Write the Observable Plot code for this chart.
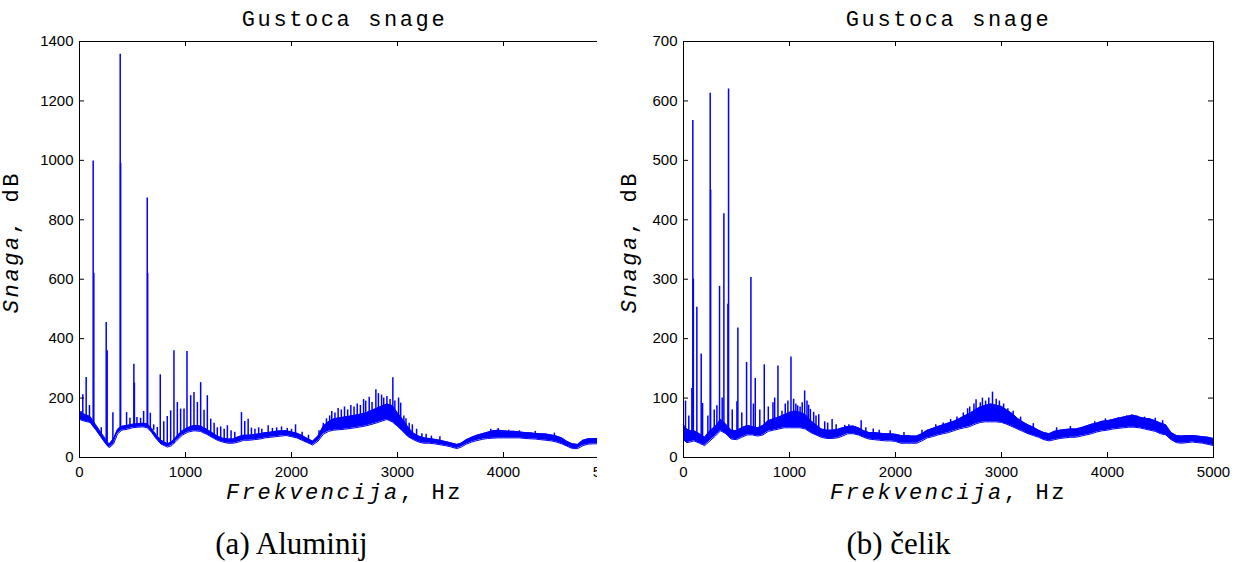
<!DOCTYPE html>
<html>
<head>
<meta charset="utf-8">
<script src="https://cdn.jsdelivr.net/npm/d3@7"></script>
<script src="https://cdn.jsdelivr.net/npm/@observablehq/plot@0.6"></script>
<style>
  body { margin: 0; background: #fff; }
  #wrap { position: relative; width: 1239px; height: 562px; overflow: hidden; background: #fff; }
  #left { position: absolute; left: 0; top: 0; width: 597px; height: 562px; overflow: hidden; }
  #right { position: absolute; left: 604px; top: 0; width: 635px; height: 562px; overflow: hidden; }
  #wrap svg { display: block; max-width: none !important; }
  g[font-family="Liberation Mono"] text { letter-spacing: 2.6px; }
</style>
</head>
<body>
<div id="wrap"><div id="left"></div><div id="right"></div></div>
<script>
// ---- shared text / ticks ----
const titleText = "Gustoca snage";
const xLabelItalic = "Frekvencija";
const xLabelRest = ", Hz";
const yLabelItalic = "Snaga";
const yLabelRest = ", dB";
const xTicks = [0, 1000, 2000, 3000, 4000, 5000];

// ---- (a) Aluminij ----
const alCaption = "(a) Aluminij";
const alYTicks = [0, 200, 400, 600, 800, 1000, 1200, 1400];
const alFreq = [0,50,100,150,200,250,280,320,360,400,450,500,550,600,640,680,720,770,830,870,920,970,1020,1080,1140,1200,1250,1300,1350,1400,1450,1500,1550,1600,1650,1700,1750,1800,1850,1900,1950,2000,2050,2100,2150,2200,2250,2300,2350,2400,2500,2600,2700,2800,2900,2950,3000,3050,3100,3150,3200,3250,3300,3350,3400,3450,3500,3560,3600,3650,3700,3750,3800,3850,3900,3950,4000,4050,4100,4150,4200,4250,4300,4350,4400,4450,4500,4550,4600,4650,4700,4750,4800,4850,4900,4950,5000];
const alLo = [128,122,118,95,70,45,33,45,80,92,95,100,102,103,100,85,65,45,35,40,58,75,85,90,88,78,68,58,52,48,48,52,58,58,60,62,66,68,70,72,74,70,66,58,50,42,55,78,88,92,95,100,106,116,128,120,105,88,70,60,52,48,48,46,43,40,36,30,35,45,52,57,61,64,65,66,66,66,66,66,64,63,62,60,58,56,52,46,38,30,30,40,45,46,46,45,45];
const alHi = [152,145,138,112,85,60,45,62,95,105,108,112,114,115,113,98,78,58,46,52,72,90,100,108,106,95,84,72,65,62,62,70,75,75,77,80,83,85,88,90,90,86,82,74,64,55,72,105,120,130,136,142,150,165,180,175,150,128,102,82,72,66,64,61,58,54,50,44,48,60,68,75,80,85,90,92,90,88,88,86,84,83,81,80,79,76,72,66,54,46,44,58,63,64,64,62,62];
const alSpikeF = [15,31,63,94,129,135,205,252,261,315,384,388,444,476,513,518,542,576,605,639,643,668,700,734,762,795,828,860,891,923,954,986,1014,1049,1080,1112,1143,1175,1206,1238,1270,1300,1332,1365,1395,1430,1465,1528,1559,1591,1622,1655,1690,1720,1780,1820,1860,1906,1960,2000,2038,2100,2160,2260,2300,2330,2360,2380,2410,2440,2470,2500,2530,2560,2590,2620,2650,2680,2700,2733,2760,2796,2820,2850,2870,2900,2930,2956,2975,3010,3030,3060,3080,3110,3140,3180,3230,3270,3320,3400,3880,3950,4050,4150,4300,4480];
const alSpikeV = [155,211,269,175,998,620,100,454,359,151,1357,990,151,132,314,250,135,132,155,873,620,149,110,101,278,120,138,157,359,185,163,163,357,208,219,185,252,159,208,129,115,100,103,95,107,90,85,151,121,129,99,95,100,95,107,98,100,103,98,95,110,85,75,90,115,130,140,155,150,165,160,170,160,175,170,180,175,195,190,203,185,228,215,210,200,205,195,268,190,200,183,140,130,115,110,95,80,78,72,70,95,98,92,90,88,82];

// ---- (b) čelik ----
const stCaption = "(b) čelik";
const stYTicks = [0, 100, 200, 300, 400, 500, 600, 700];
const stFreq = [0,30,60,100,150,200,250,300,350,400,450,500,550,600,650,700,750,800,850,900,950,1000,1050,1100,1150,1200,1250,1300,1350,1400,1450,1500,1550,1600,1650,1700,1750,1800,1850,1900,1950,2000,2050,2100,2150,2200,2250,2300,2350,2400,2450,2500,2550,2600,2650,2700,2750,2800,2850,2900,2950,3000,3050,3100,3150,3200,3250,3300,3350,3400,3450,3500,3550,3600,3650,3700,3750,3800,3850,3900,3950,4000,4050,4100,4150,4200,4250,4300,4350,4400,4450,4500,4550,4600,4650,4700,4750,4800,4850,4900,4950,5000];
const stLo = [30,25,26,28,24,20,28,36,45,40,31,30,34,38,38,36,38,44,46,48,50,50,50,50,48,42,38,34,32,32,33,36,40,40,38,34,31,30,29,28,28,27,24,24,24,24,28,33,35,38,40,42,45,48,50,52,56,59,60,60,60,59,56,52,48,44,40,37,34,30,28,30,32,33,34,34,36,38,40,43,45,46,48,49,50,51,51,50,48,46,44,40,38,30,25,24,25,26,25,24,22,20];
const stHi = [55,48,45,45,40,34,45,52,64,56,46,45,50,54,52,50,54,62,65,68,72,76,78,76,72,62,55,48,46,46,47,50,52,53,50,45,42,42,41,40,40,39,37,37,36,36,40,46,49,52,55,58,61,65,70,74,80,85,88,90,88,86,80,74,66,60,55,51,46,42,40,44,46,47,48,48,50,53,56,58,61,62,64,66,68,70,71,68,66,65,62,58,55,42,37,36,37,37,36,35,34,32];
const stSpikeF = [19,50,79,88,93,126,167,180,230,252,256,290,315,340,365,381,419,425,460,504,513,550,595,636,660,677,720,762,800,844,860,891,929,960,985,1014,1039,1060,1077,1100,1120,1143,1165,1180,1197,1228,1250,1276,1332,1360,1402,1440,1521,1560,1610,1676,1720,1790,1846,1950,2080,2250,2380,2450,2520,2580,2640,2680,2700,2740,2760,2800,2820,2850,2880,2915,2950,2980,3020,3060,3110,3180,3300,3520,3650,3880,3980,4100,4180,4230,4280,4350,4450,4520];
const stSpikeV = [95,70,116,567,300,253,174,91,70,613,450,80,87,288,100,410,258,620,80,94,218,75,160,303,90,133,80,156,85,92,100,154,78,90,95,169,98,90,87,85,92,112,95,88,81,76,70,72,60,58,64,55,54,55,52,62,50,48,46,45,42,46,55,58,64,68,75,82,85,90,97,92,100,95,100,110,98,95,90,82,78,68,57,50,52,60,65,67,70,72,70,68,66,62];

const blue = "#0000ff";
const ADV = 15.8; // monospace advance incl. letter-spacing

function panel(el, o) {
  const H = 562, top = 41, bottom = 457;
  const plotW = o.width - o.ml - o.mr, plotH = bottom - top;
  const band = o.freq.map((f, i) => ({f, lo: o.lo[i], hi: o.hi[i]}));
  const spikes = o.spF.map((f, i) => {
    const b = d3.least(band, d => Math.abs(d.f - f));
    return {f, v: o.spV[i], base: (b.lo + b.hi) / 2};
  });
  const mono = {fontFamily: "Liberation Mono", fontSize: 22, fill: "#000"};
  const chart = Plot.plot({
    width: o.width, height: H,
    marginLeft: o.ml, marginRight: o.mr, marginTop: top, marginBottom: H - bottom,
    x: {domain: [0, 5000], axis: null},
    y: {domain: [0, o.yMax], axis: null},
    style: {background: "transparent", color: "#000", overflow: "visible", maxWidth: "none"},
    marks: [
      Plot.areaY(band, {x: "f", y1: "lo", y2: "hi", fill: blue}),
      Plot.line(band, {x: "f", y: "lo", stroke: blue, strokeWidth: 1}),
      Plot.line(band, {x: "f", y: "hi", stroke: blue, strokeWidth: 1}),
      Plot.ruleX(spikes, {x: "f", y1: "base", y2: "v", stroke: blue, strokeWidth: 1.5}),
      Plot.frame({stroke: "#000"}),
      Plot.tickX(xTicks, {x: d => d, insetTop: plotH - 5, stroke: "#000"}),
      Plot.tickX(xTicks, {x: d => d, insetBottom: plotH - 5, stroke: "#000"}),
      Plot.tickY(o.yTicks, {y: d => d, insetRight: plotW - 5, stroke: "#000"}),
      Plot.tickY(o.yTicks, {y: d => d, insetLeft: plotW - 5, stroke: "#000"}),
      Plot.text(xTicks, {x: d => d, frameAnchor: "bottom", text: d => String(d), lineAnchor: "top", dy: 9,
        fontFamily: "Liberation Sans", fontSize: 15, fill: "#000"}),
      Plot.text(o.yTicks, {y: d => d, frameAnchor: "left", text: d => String(d), textAnchor: "end", dx: -6,
        fontFamily: "Liberation Sans", fontSize: 15, fill: "#000"}),
      Plot.text([titleText], {frameAnchor: "top", text: d => d, lineAnchor: "bottom", dy: -15.3, dx: 0, ...mono}),
      Plot.text([xLabelItalic], {frameAnchor: "bottom", text: d => d, textAnchor: "end", lineAnchor: "bottom",
        dx: 3.5 * ADV, dy: 41, fontStyle: "italic", ...mono}),
      Plot.text([xLabelRest], {frameAnchor: "bottom", text: d => d, textAnchor: "start", lineAnchor: "bottom",
        dx: 3.5 * ADV, dy: 41, ...mono}),
      Plot.text([yLabelItalic], {frameAnchor: "left", text: d => d, rotate: -90, textAnchor: "end", lineAnchor: "bottom",
        dx: o.ylDx, dy: -15.3, fontStyle: "italic", ...mono}),
      Plot.text([yLabelRest], {frameAnchor: "left", text: d => d, rotate: -90, textAnchor: "start", lineAnchor: "bottom",
        dx: o.ylDx, dy: -15.3, ...mono}),
      Plot.text([o.caption], {frameAnchor: "bottom", text: d => d, lineAnchor: "bottom", dx: o.capDx, dy: 96,
        fontFamily: "Liberation Serif", fontSize: 31, fill: "#000"})
    ]
  });
  el.appendChild(chart);
}

panel(document.getElementById("left"), {
  width: 620, ml: 79, mr: 11, yMax: 1400, yTicks: alYTicks,
  freq: alFreq, lo: alLo, hi: alHi, spF: alSpikeF, spV: alSpikeV,
  caption: alCaption, ylDx: -62, capDx: -53
});
panel(document.getElementById("right"), {
  width: 635, ml: 79, mr: 26, yMax: 700, yTicks: stYTicks,
  freq: stFreq, lo: stLo, hi: stHi, spF: stSpikeF, spV: stSpikeV,
  caption: stCaption, ylDx: -48, capDx: -50
});
</script>
</body>
</html>
